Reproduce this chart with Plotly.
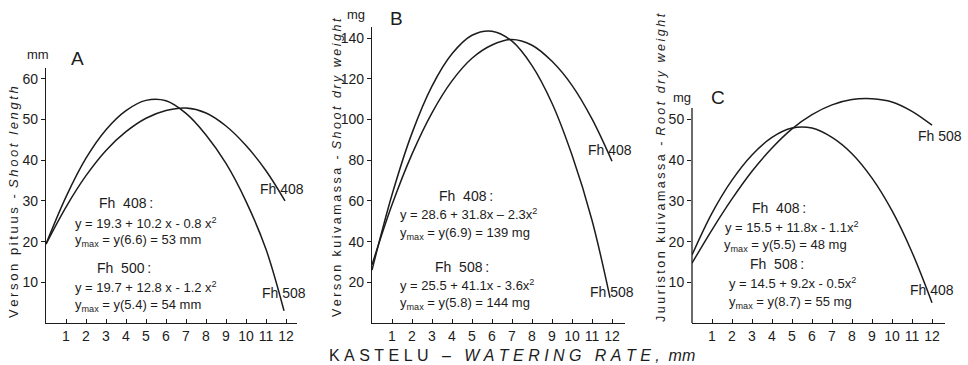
import plotly.graph_objects as go

# ---------------- data ----------------
# Panel A - shoot length (mm)
a408_x = [0, 1, 2, 3, 4, 5, 6, 7, 8, 9, 10, 11, 11.95]
a408_y = [19.4, 28.5, 36.2, 42.4, 47.0, 50.3, 52.2, 52.8, 51.6, 48.4, 43.6, 37.4, 30.0]
a508_x = [0, 1, 2, 3, 4, 5, 6, 7, 8, 9, 10, 11, 11.9]
a508_y = [19.4, 31.0, 40.5, 47.5, 52.2, 54.7, 54.6, 51.5, 46.2, 39.2, 29.9, 18.1, 3.0]

# Panel B - shoot dry weight (mg)
b408_x = [0, 1, 2, 3, 4, 5, 6, 7, 8, 9, 10, 11, 12]
b408_y = [28.6, 58.1, 83.0, 103.3, 119.0, 130.1, 136.6, 139.3, 136.5, 128.6, 116.8, 100.3, 79.5]
b508_x = [0, 1, 2, 3, 4, 5, 6, 7, 8, 9, 10, 11, 11.9]
b508_y = [26.0, 63.0, 93.3, 116.4, 132.3, 141.4, 143.4, 138.5, 126.5, 108.0, 82.5, 50.5, 12.5]

# Panel C - root dry weight (mg)
c408_x = [0, 1, 2, 3, 4, 5, 6, 7, 8, 9, 10, 11, 12]
c408_y = [16.7, 27.0, 35.1, 41.3, 45.6, 47.9, 47.9, 45.6, 41.6, 35.6, 27.6, 17.4, 5.0]
c508_x = [0, 1, 2, 3, 4, 5, 6, 7, 8, 9, 10, 11, 12]
c508_y = [14.7, 22.9, 30.5, 37.3, 43.0, 47.7, 51.2, 53.6, 54.9, 55.1, 54.3, 52.0, 48.6]

x_ticks = [1, 2, 3, 4, 5, 6, 7, 8, 9, 10, 11, 12]
a_yticks = [10, 20, 30, 40, 50, 60]
b_yticks = [20, 40, 60, 80, 100, 120, 140]
c_yticks = [10, 20, 30, 40, 50]

# ---------------- figure ----------------
W, H = 968, 365
INK = "#1c1c1c"
FONT = "Liberation Sans, Arial, Helvetica, sans-serif"


def P(px, py):
    return px / W, 1 - py / H


fig = go.Figure()
line = dict(color=INK, width=1.5, shape="spline", smoothing=1.0)
for xs, ys, xa, ya in [
    (a408_x, a408_y, "x", "y"), (a508_x, a508_y, "x", "y"),
    (b408_x, b408_y, "x2", "y2"), (b508_x, b508_y, "x2", "y2"),
    (c408_x, c408_y, "x3", "y3"), (c508_x, c508_y, "x3", "y3"),
]:
    fig.add_trace(go.Scatter(x=xs, y=ys, mode="lines", line=line,
                             xaxis=xa, yaxis=ya, showlegend=False, hoverinfo="skip"))

ybot = P(0, 323)[1]


def xax(l, r):
    d = P(l, 0)[0], P(r, 0)[0]
    rng = (r - l) / 20.0
    return dict(domain=list(d), range=[0, rng], tickvals=x_ticks, showline=True,
                linecolor=INK, linewidth=1.3, ticks="inside", ticklen=4,
                tickcolor=INK, tickwidth=1, showgrid=False, zeroline=False,
                tickfont=dict(size=14, color=INK, family=FONT), fixedrange=True)


def yax(top, perpx, ticks, anchor, showline=True):
    d = [ybot, P(0, top)[1]]
    rng = (323 - top) / perpx
    return dict(domain=d, range=[0, rng], tickvals=ticks, showline=showline,
                linecolor=INK, linewidth=1.3, ticks="outside", ticklen=4,
                tickcolor=INK, tickwidth=1, showgrid=False, zeroline=False,
                tickfont=dict(size=14, color=INK, family=FONT), anchor=anchor,
                fixedrange=True)


fig.update_layout(
    width=W, height=H, margin=dict(l=0, r=0, t=0, b=0),
    paper_bgcolor="white", plot_bgcolor="white",
    font=dict(family=FONT, color=INK, size=13),
    xaxis=dict(xax(46, 297), anchor="y"),
    yaxis=yax(68, 4.07, a_yticks, "x"),
    xaxis2=dict(xax(372, 625), anchor="y2"),
    yaxis2=yax(27, 2.035, b_yticks, "x2"),
    xaxis3=dict(xax(692, 945), anchor="y3"),
    # panel C: plotting area taller than the drawn axis line so the curve can rise above it
    yaxis3=yax(92, 4.07, c_yticks, "x3", showline=False),
)

# drawn axis line of panel C (stops below the curve's peak, as in the original)
x0c, _ = P(692, 0)
fig.add_shape(type="line", xref="paper", yref="paper", x0=x0c, x1=x0c,
              y0=ybot, y1=P(0, 108)[1], line=dict(color=INK, width=1.3))

ann = []


def txt(px, py, s, size=13, xanchor="left", angle=0):
    x, y = P(px, py)
    ann.append(dict(x=x, y=y, xref="paper", yref="paper", text=s, showarrow=False,
                    xanchor=xanchor, yanchor="middle", textangle=angle,
                    font=dict(size=size, color=INK, family=FONT)))


def spaced(s):
    return "\u2009".join(list(s))


nb = "\u00a0"
# units and panel letters
txt(38, 54, "mm", 13, "center")
txt(77, 58, "A", 19, "center")
txt(356, 15, "mg", 13, "center")
txt(396, 18, "B", 19, "center")
txt(682, 97, "mg", 13, "center")
txt(718, 97, "C", 19, "center")

# y-axis titles
txt(14, 202, spaced("Verson pituus - ") + "<i>" + spaced("Shoot length") + "</i>", 13, "center", -90)
txt(337, 168, spaced("Verson kuivamassa - ") + "<i>" + spaced("Shoot dry weight") + "</i>", 12.5, "center", -90)
txt(661, 168, spaced("Juuriston kuivamassa - ") + "<i>" + spaced("Root dry weight") + "</i>", 12.5, "center", -90)

# x-axis title
xt = (nb.join("KASTELU") + nb * 3 + "\u2013" + nb * 3 + "<i>" + nb.join("WATERING")
      + nb * 3 + nb.join("RATE,") + nb * 2 + "mm</i>")
txt(512, 355, xt, 16, "center")


def head(s):
    return s.replace(" ", nb * 2).replace(":", "\u2009:")


# panel A equations
txt(97, 203, head("Fh 408:"), 14)
txt(73, 223, "y = 19.3 + 10.2 x - 0.8 x<sup>2</sup>")
txt(73, 241, "y<sub>max</sub> = y(6.6) = 53 mm")
txt(95, 268, head("Fh 500:"), 14)
txt(73, 287, "y = 19.7 + 12.8 x - 1.2 x<sup>2</sup>")
txt(73, 305, "y<sub>max</sub> = y(5.4) = 54 mm")
txt(282, 189, "Fh 408", 14, "center")
txt(284, 293, "Fh 508", 14, "center")

# panel B equations
txt(437, 196, head("Fh 408:"), 14)
txt(398, 214, "y = 28.6 + 31.8x \u2013 2.3x<sup>2</sup>")
txt(398, 233, "y<sub>max</sub> = y(6.9) = 139 mg")
txt(433, 267, head("Fh 508:"), 14)
txt(398, 285, "y = 25.5 + 41.1x - 3.6x<sup>2</sup>")
txt(398, 303, "y<sub>max</sub> = y(5.8) = 144 mg")
txt(610, 150, "Fh 408", 14, "center")
txt(612, 292, "Fh 508", 14, "center")

# panel C equations
txt(750, 208, head("Fh 408:"), 14)
txt(723, 227, "y = 15.5 + 11.8x - 1.1x<sup>2</sup>")
txt(722, 245, "y<sub>max</sub> = y(5.5) = 48 mg")
txt(748, 264, head("Fh 508:"), 14)
txt(727, 283, "y = 14.5 + 9.2x - 0.5x<sup>2</sup>")
txt(727, 302, "y<sub>max</sub> = y(8.7) = 55 mg")
txt(940, 136, "Fh 508", 14, "center")
txt(932, 290, "Fh 408", 14, "center")

fig.update_layout(annotations=ann)
fig.write_html("out.html")
